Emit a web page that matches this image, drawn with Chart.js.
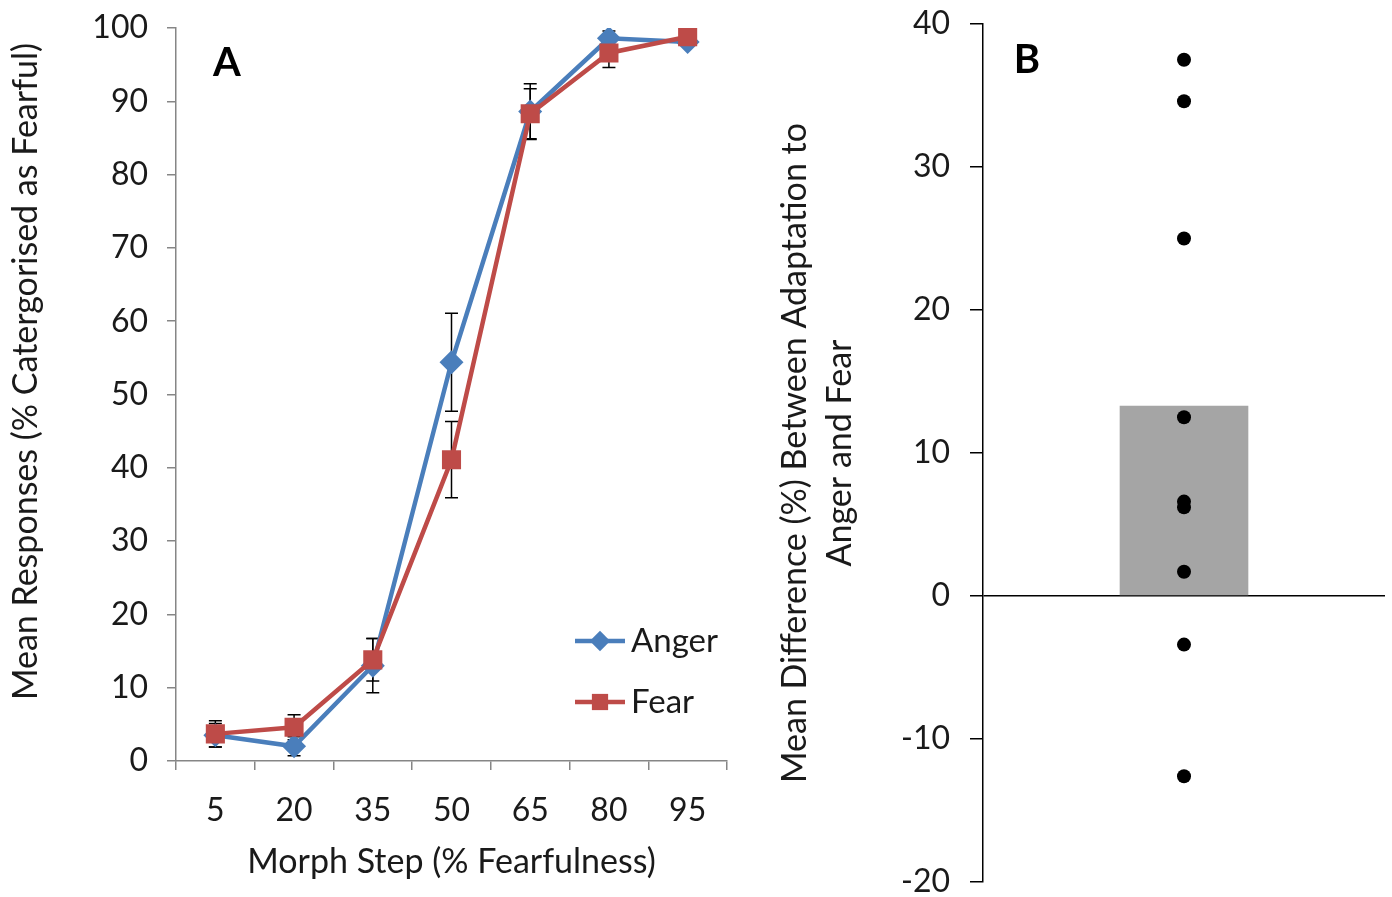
<!DOCTYPE html>
<html>
<head>
<meta charset="utf-8">
<script src="https://cdn.jsdelivr.net/npm/chart.js@4.4.1/dist/chart.umd.min.js"></script>
<style>
  html, body { margin: 0; padding: 0; background: #ffffff; }
  body { width: 1392px; height: 897px; position: relative; overflow: hidden; }
  #chartA { position: absolute; left: 0; top: 0; }
  #chartB { position: absolute; left: 745px; top: 0; }
</style>
</head>
<body>
<canvas id="chartA" width="745" height="897"></canvas>
<canvas id="chartB" width="647" height="897"></canvas>
<script>
// ---------- Data ----------
const morphSteps = ['5', '20', '35', '50', '65', '80', '95'];
const angerValues = [3.5, 2.0, 13.0, 54.4, 88.6, 98.6, 98.1];
const angerErrors = [1.6, 1.3, 3.7, 6.7, 3.8, 1.0, 0.5];
const fearValues = [3.7, 4.6, 13.8, 41.1, 88.3, 96.6, 98.8];
const fearErrors = [1.8, 1.7, 2.9, 5.2, 3.4, 2.0, 0.5];
const seriesNames = ['Anger', 'Fear'];

const diffCategory = ['Mean'];
const diffMean = [13.3];
const diffParticipants = [37.5, 34.6, 25.0, 12.5, 6.6, 6.2, 1.7, -3.4, -12.6];

const yTicksA = { min: 0, max: 100, step: 10 };
const yTicksB = { min: -20, max: 40, step: 10 };

const titleAx = 'Morph Step (% Fearfulness)';
const titleAy = 'Mean Responses (% Catergorised as Fearful)';
const titleBy = ['Mean Difference (%) Between Adaptation to', 'Anger and Fear'];

// ---------- Styles ----------
const FONT = 'Lato, Calibri, Carlito, sans-serif';
const TEXT = '#1a1a1a';
const BLUE = '#4A7EBB';
const RED = '#BE4B48';

function errorBarsPlugin(errorsByDataset) {
  return {
    id: 'errorBars',
    beforeDatasetsDraw(chart) {
      const ctx = chart.ctx;
      const yScale = chart.scales.y;
      ctx.save();
      ctx.strokeStyle = '#000';
      ctx.lineWidth = 1.5;
      chart.data.datasets.forEach((ds, di) => {
        const meta = chart.getDatasetMeta(di);
        const errs = errorsByDataset[di];
        meta.data.forEach((pt, i) => {
          const v = ds.data[i];
          const e = errs[i];
          const yt = yScale.getPixelForValue(v + e);
          const yb = yScale.getPixelForValue(v - e);
          const x = pt.x;
          const cap = 6.5;
          ctx.beginPath();
          ctx.moveTo(x, yt); ctx.lineTo(x, yb);
          ctx.moveTo(x - cap, yt); ctx.lineTo(x + cap, yt);
          ctx.moveTo(x - cap, yb); ctx.lineTo(x + cap, yb);
          ctx.stroke();
        });
      });
      ctx.restore();
    }
  };
}

const legendPlugin = {
  id: 'customLegend',
  afterDraw(chart) {
    const ctx = chart.ctx;
    const area = chart.chartArea;
    const x0 = area.right - 152;
    const rows = [area.bottom - 120, area.bottom - 59];
    ctx.save();
    chart.data.datasets.forEach((ds, di) => {
      const y = rows[di];
      ctx.strokeStyle = ds.borderColor;
      ctx.lineWidth = ds.borderWidth;
      ctx.beginPath();
      ctx.moveTo(x0, y); ctx.lineTo(x0 + 50, y);
      ctx.stroke();
      ctx.fillStyle = ds.backgroundColor;
      Chart.helpers.drawPoint(ctx, {
        pointStyle: ds.pointStyle, radius: ds.pointRadius * 0.85, rotation: 0, borderWidth: 0
      }, x0 + 25, y);
      ctx.fillStyle = TEXT;
      ctx.font = '33px ' + FONT;
      ctx.textAlign = 'left';
      ctx.textBaseline = 'middle';
      ctx.fillText(ds.label, x0 + 56, y);
    });
    ctx.restore();
  }
};

// Y-axis title of panel A, drawn slightly above the axis centre as in the reference
const yTitleAPlugin = {
  id: 'yTitleA',
  afterDraw(chart) {
    const ctx = chart.ctx;
    const area = chart.chartArea;
    ctx.save();
    ctx.translate(26, (area.top + area.bottom) / 2 - 23);
    ctx.rotate(-Math.PI / 2);
    ctx.fillStyle = TEXT;
    ctx.font = '34px ' + FONT;
    ctx.textAlign = 'center';
    ctx.textBaseline = 'middle';
    ctx.fillText(titleAy, 0, 0);
    ctx.restore();
  }
};

function panelLetter(letter, dx, dy) {
  return {
    id: 'panelLetter' + letter,
    afterDraw(chart) {
      const ctx = chart.ctx;
      const area = chart.chartArea;
      ctx.save();
      ctx.fillStyle = '#000';
      ctx.font = 'bold 40px ' + FONT;
      ctx.textAlign = 'center';
      ctx.textBaseline = 'middle';
      ctx.fillText(letter, area.left + dx, area.top + dy);
      ctx.restore();
    }
  };
}

function build() {
  Chart.defaults.font.family = FONT;
  Chart.defaults.color = TEXT;

  // ---------- Panel A ----------
  new Chart(document.getElementById('chartA'), {
    type: 'line',
    data: {
      labels: morphSteps,
      datasets: [
        {
          label: seriesNames[0], data: angerValues, order: 1,
          borderColor: BLUE, backgroundColor: BLUE, borderWidth: 4.5,
          pointStyle: 'rectRot', pointRadius: 12, pointBorderWidth: 0,
          pointBackgroundColor: BLUE, tension: 0
        },
        {
          label: seriesNames[1], data: fearValues, order: 0,
          borderColor: RED, backgroundColor: RED, borderWidth: 4.5,
          pointStyle: 'rect', pointRadius: 13.5, pointBorderWidth: 0,
          pointBackgroundColor: RED, tension: 0
        }
      ]
    },
    options: {
      responsive: false, animation: false, devicePixelRatio: 1,
      layout: { padding: { top: 28, right: 18, left: 0, bottom: 0 } },
      plugins: { legend: { display: false }, tooltip: { enabled: false } },
      scales: {
        x: {
          type: 'category', offset: true,
          grid: { offset: true, drawOnChartArea: false, drawTicks: true, tickLength: 9, color: '#868686', lineWidth: 1.5 },
          border: { color: '#868686', width: 1.5 },
          ticks: { font: { size: 32 }, color: TEXT, padding: 21, maxRotation: 0 },
          title: { display: true, text: titleAx, font: { size: 34 }, color: TEXT, padding: { top: 0, bottom: 15 } },
          afterFit(s) { s.height = 136; s.paddingLeft = 0; s.paddingRight = 0; }
        },
        y: {
          min: yTicksA.min, max: yTicksA.max,
          grid: { drawOnChartArea: false, drawTicks: true, tickLength: 9, color: '#868686', lineWidth: 1.5 },
          border: { color: '#868686', width: 1.5 },
          ticks: { stepSize: yTicksA.step, font: { size: 32 }, color: TEXT, padding: 19 },
          title: { display: false },
          afterFit(s) { s.width = 176; s.paddingTop = 0; s.paddingBottom = 0; }
        }
      }
    },
    plugins: [errorBarsPlugin([angerErrors, fearErrors]), legendPlugin, yTitleAPlugin, panelLetter('A', 51, 35)]
  });

  // ---------- Panel B ----------
  new Chart(document.getElementById('chartB'), {
    data: {
      labels: diffCategory,
      datasets: [
        {
          type: 'line', label: 'Participants', order: 0, showLine: false,
          data: diffParticipants.map(v => ({ x: diffCategory[0], y: v })),
          pointRadius: 7, pointBackgroundColor: '#000', pointBorderColor: '#000', pointBorderWidth: 0
        },
        {
          type: 'bar', label: 'Mean difference', order: 1, data: diffMean,
          backgroundColor: '#A5A5A5', barPercentage: 0.32, categoryPercentage: 1
        }
      ]
    },
    options: {
      responsive: false, animation: false, devicePixelRatio: 1,
      layout: { padding: { top: 24, right: 7, left: 0, bottom: 15 } },
      plugins: { legend: { display: false }, tooltip: { enabled: false } },
      scales: {
        x: { type: 'category', display: false, offset: true },
        y: {
          min: yTicksB.min, max: yTicksB.max,
          grid: {
            drawOnChartArea: true, drawTicks: true, tickLength: 13, lineWidth: 1.5,
            color: c => (c.tick && c.tick.value === 0 ? '#000' : 'rgba(0,0,0,0)'),
            tickColor: '#000'
          },
          border: { color: '#000', width: 1.5 },
          ticks: { stepSize: yTicksB.step, font: { size: 32 }, color: TEXT, padding: 20 },
          title: {
            display: true,
            text: titleBy,
            font: { size: 34, lineHeight: 1.32 }, color: TEXT, padding: { top: 28, bottom: 0 }
          },
          afterFit(s) { s.width = 238; s.paddingTop = 0; s.paddingBottom = 0; }
        }
      }
    },
    plugins: [panelLetter('B', 44, 36)]
  });
}

if (document.fonts && document.fonts.load) {
  Promise.all([
    document.fonts.load('30px Lato'),
    document.fonts.load('bold 40px Lato')
  ]).then(build, build);
} else {
  build();
}
</script>
</body>
</html>
